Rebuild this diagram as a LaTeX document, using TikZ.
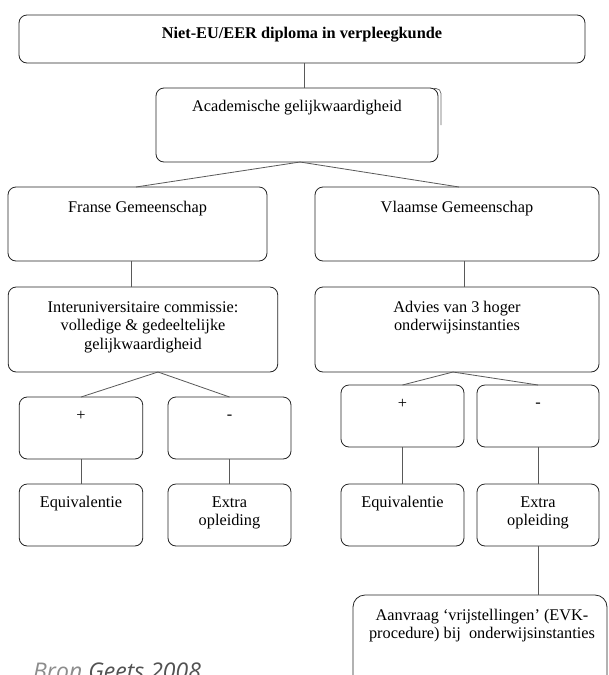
\documentclass[tikz,border=0pt]{standalone}
\usepackage{fontspec}
\setmainfont{Liberation Serif}
\newfontfamily\notefont{Open Sans}
\usetikzlibrary{calc}

\begin{document}
\begin{tikzpicture}[x=1pt,y=-1pt,
  box/.style 2 args={draw=black!85, line width=0.8pt, rounded corners=8pt,
    inner sep=0pt, outer sep=0pt, minimum width=#1pt, minimum height=#2pt},
  link/.style={draw=black!65, line width=0.8pt},
  lbl/.style={font=\fontsize{16.3}{18.5}\selectfont, align=center,
    inner sep=0pt, anchor=base},
]
\clip (0,0) rectangle (609,675);
\fill[white] (0,0) rectangle (609,675);

% boxes
\node[box={566}{48}]   (top)     at (302,39)    {};
\node[box={282}{74}]   (acad)    at (297,125)   {};
\node[box={259}{74}]   (franse)  at (137.5,224) {};
\node[box={284}{74}]   (vlaamse) at (457,224)   {};
\node[box={269.5}{85}] (inter)   at (143,329.5) {};
\node[box={284}{85}]   (advies)  at (457,329.5) {};
\node[box={123.5}{62}] (plusL)   at (81,428)    {};
\node[box={123}{62}]   (minL)    at (229.5,428) {};
\node[box={123}{62}]   (plusR)   at (402.5,416) {};
\node[box={122}{62}]   (minR)    at (538,416)   {};
\node[box={123.5}{62}] (eqL)     at (81,515)    {};
\node[box={123}{62}]   (exL)     at (229.5,515) {};
\node[box={123}{62}]   (eqR)     at (402.5,515) {};
\node[box={122}{62}]   (exR)     at (538,515)   {};
\node[box={254}{130}, rounded corners=12pt] (aanv) at (480,660) {};

% faint second edge at the upper right of the academic box
\draw[black!60, line width=0.7pt, rounded corners=5pt] (433,88.5) -| (441,125);

% labels (multi-line labels sit on the baseline of their last line)
\node[lbl] (topT) at (302,38) {\textbf{Niet-EU/EER diploma in verpleegkunde}};
\node[lbl] (acadT) at (297,111) {Academische gelijkwaardigheid};
\node[lbl] (franseT) at (137.5,212) {Franse Gemeenschap};
\node[lbl] (vlaamseT) at (457,212) {Vlaamse Gemeenschap};
\node[lbl] (interT) at (143,349) {Interuniversitaire commissie:\\volledige \& gedeeltelijke\\gelijkwaardigheid};
\node[lbl] (adviesT) at (457,330.5) {Advies van 3 hoger\\onderwijsinstanties};
\node[lbl] (plusLT) at (81,420) {+};
\node[lbl] (minLT) at (229.5,419) {-};
\node[lbl] (plusRT) at (402.5,408) {+};
\node[lbl] (minRT) at (538,407) {-};
\node[lbl] (eqLT) at (81,507) {Equivalentie};
\node[lbl] (exLT) at (229.5,525.5) {Extra\\opleiding};
\node[lbl] (eqRT) at (402.5,507) {Equivalentie};
\node[lbl] (exRT) at (538,525.5) {Extra\\opleiding};
\node[lbl] (aanvT) at (482,638.5) {Aanvraag ‘vrijstellingen’ (EVK-\\procedure) bij\ \ onderwijsinstanties};

% connectors
\draw[link] ([xshift=2pt]top.south) -- ([xshift=2pt]top.south |- acad.north);
\draw[link] ([xshift=3pt]acad.south) -- ([xshift=-1.5pt]franse.north);
\draw[link] ([xshift=3pt]acad.south) -- ([xshift=2pt]vlaamse.north);
\draw[link] ([xshift=-6pt]franse.south) -- ([xshift=-6pt]franse.south |- inter.north);
\draw[link] ([xshift=7pt]vlaamse.south) -- ([xshift=7pt]vlaamse.south |- advies.north);
\draw[link] ([xshift=15pt]inter.south) -- (plusL.north);
\draw[link] ([xshift=15pt]inter.south) -- (minL.north);
\draw[link] ([xshift=-4pt]advies.south) -- (plusR.north);
\draw[link] ([xshift=-4pt]advies.south) -- (minR.north);
\draw[link] (plusL.south) -- (eqL.north);
\draw[link] (minL.south) -- (exL.north);
\draw[link] (plusR.south) -- (eqR.north);
\draw[link] (minR.south) -- (exR.north);
\draw[link] (exR.south) -- (exR.south |- aanv.north);

% source note
\node[anchor=base west, inner sep=0pt, font=\notefont\itshape\fontsize{23}{23}\selectfont]
  (src) at (33,679) {\textcolor{black!45}{Bron} \textcolor{black!68}{Geets 2008}};
\end{tikzpicture}
\end{document}
